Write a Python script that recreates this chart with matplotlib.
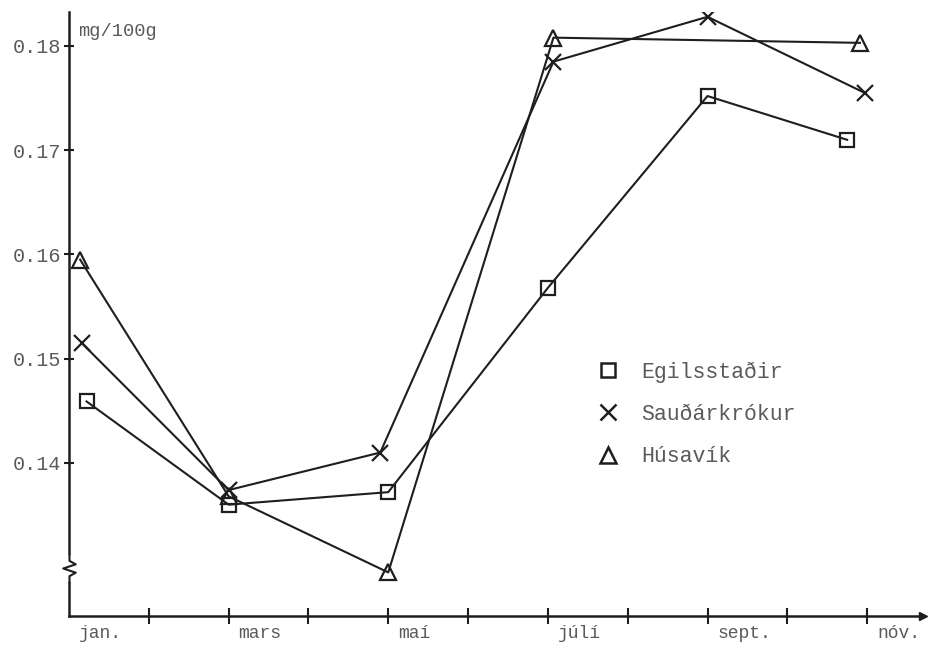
import matplotlib
matplotlib.use("Agg")
import matplotlib.pyplot as plt
import matplotlib.transforms as mtransforms
from matplotlib.path import Path
from matplotlib.lines import Line2D

# ---- data ----
month_ticks = [1, 2, 3, 4, 5, 6, 7, 8, 9, 10, 11]
month_labels = ["jan.", "", "mars", "", "maí", "", "júlí", "", "sept.", "", "nóv."]
yticks = [0.14, 0.15, 0.16, 0.17, 0.18]
ytick_labels = ["0.14", "0.15", "0.16", "0.17", "0.18"]

series_names = ["Egilsstaðir", "Sauðárkrókur", "Húsavík"]

egil_x = [1.22, 3.0, 5.0, 7.0, 9.0, 10.75]
egil_y = [0.1459, 0.1360, 0.1372, 0.1568, 0.1752, 0.1710]

saud_x = [1.16, 3.0, 4.9, 7.07, 9.0, 10.97]
saud_y = [0.1515, 0.1374, 0.1410, 0.1785, 0.1828, 0.1755]

husa_x = [1.14, 3.0, 5.0, 7.07, 10.91]
husa_y = [0.1595, 0.1368, 0.1295, 0.1808, 0.1803]

unit_label = "mg/100g"

# ---- styling ----
W, H = 946, 645
fig = plt.figure(figsize=(W / 100, H / 100), dpi=100)
fig.patch.set_facecolor("white")
ax = fig.add_axes([69 / W, (H - 616) / H, (923 - 69) / W, (616 - 12) / H])

font = ["Liberation Mono", "DejaVu Sans Mono"]
txt_color = "#5a5a5a"
ink = "#1e1e1e"
fs = 14.5

ax.set_xlim(1, 11.70)
ax.set_ylim(0.12532, 0.18326)

lw = 1.5
ax.plot(egil_x, egil_y, color=ink, lw=lw, marker="s", ms=10, mfc="none", mec=ink, mew=1.6, zorder=3)
ax.plot(saud_x, saud_y, color=ink, lw=lw, marker="x", ms=11, mec=ink, mew=1.6, zorder=3)
ax.plot(husa_x, husa_y, color=ink, lw=lw, marker="^", ms=11, mfc="none", mec=ink, mew=1.6, zorder=3)

for s in ["top", "right"]:
    ax.spines[s].set_visible(False)
for s in ["left", "bottom"]:
    ax.spines[s].set_color(ink)
    ax.spines[s].set_linewidth(1.8)

ax.set_yticks(yticks)
ax.set_yticklabels(ytick_labels, fontfamily=font, fontsize=fs, color=txt_color)
ax.tick_params(axis="y", direction="inout", length=7, width=1.5, color=ink, pad=2)

ax.set_xticks(month_ticks)
ax.set_xticklabels(month_labels, fontfamily=font, fontsize=13, color=txt_color, ha="left")
ax.tick_params(axis="x", direction="inout", length=12, width=1.5, color=ink, pad=0.5)
offset = mtransforms.ScaledTranslation(10 / 100, 0, fig.dpi_scale_trans)
for lab in ax.get_xticklabels():
    lab.set_transform(lab.get_transform() + offset)
ax.xaxis.get_major_ticks()[0].tick1line.set_visible(False)

# arrow head at end of x axis
ax.plot([1], [0], marker=">", ms=6, color=ink, transform=ax.transAxes, clip_on=False)

# axis break squiggle on the y axis
blend = mtransforms.blended_transform_factory(ax.transAxes, ax.transData)
ax.plot([0, 0], [0.1289, 0.1309], color="white", lw=4, transform=blend, clip_on=False, zorder=3)
zig = Path([(0, -1), (0, -0.55), (0.45, -0.3), (-0.45, 0.0), (0.45, 0.3), (0, 0.55), (0, 1)],
           [Path.MOVETO] + [Path.LINETO] * 6)
ax.plot([0], [0.1299], marker=zig, ms=20, mfc="none", mec=ink, mew=1.5,
        transform=blend, clip_on=False, zorder=4)

fig.text(78 / W, 1 - 32 / H, unit_label, fontfamily=font, fontsize=fs - 1,
         color=txt_color, va="center", ha="left")

handles = [
    Line2D([], [], ls="none", marker="s", ms=10, mfc="none", mec=ink, mew=1.8),
    Line2D([], [], ls="none", marker="x", ms=11, mec=ink, mew=1.8),
    Line2D([], [], ls="none", marker="^", ms=11, mfc="none", mec=ink, mew=1.8),
]
leg = ax.legend(handles, series_names, loc="upper left",
                bbox_to_anchor=(584 / W, 1 - 351 / H), bbox_transform=fig.transFigure,
                frameon=False, borderpad=0, handlelength=1.2, handletextpad=0.95,
                labelspacing=0.98, prop={"family": font, "size": 15.5})
for t in leg.get_texts():
    t.set_color(txt_color)

fig.savefig("out.png", dpi=100, facecolor="white")
